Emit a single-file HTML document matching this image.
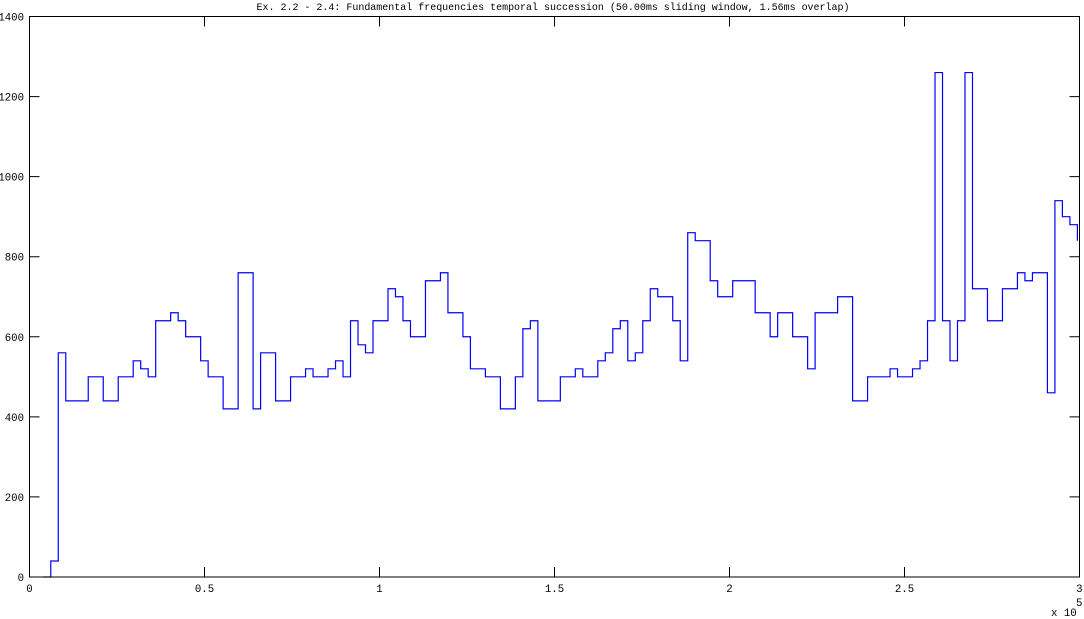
<!DOCTYPE html>
<html><head><meta charset="utf-8"><style>
html,body{margin:0;padding:0;background:#fff;}
svg{display:block;font-family:"Liberation Mono",monospace;font-size:10.7px;}
</style></head><body>
<svg id="chart" width="1084" height="619" viewBox="0 0 1084 619" xmlns="http://www.w3.org/2000/svg">
<rect width="1084" height="619" fill="#fff"/>
<text x="553" y="10" text-anchor="middle" textLength="593" lengthAdjust="spacingAndGlyphs" style="font-size:10.2px">Ex. 2.2 - 2.4: Fundamental frequencies temporal succession (50.00ms sliding window, 1.56ms overlap)</text>
<g id="axes"></g>
<path id="series" fill="none" stroke="#0000ff" stroke-width="1.2"/>
<rect x="29.5" y="16.5" width="1050" height="560.5" fill="none" stroke="#000" stroke-width="1"/>
<text x="1051" y="616">x 10</text>
<text x="1076" y="606">5</text>
</svg>
<script>
const xTicks = [0, 50000, 100000, 150000, 200000, 250000, 300000];
const xTickLabels = ["0", "0.5", "1", "1.5", "2", "2.5", "3"];
const yTicks = [0, 200, 400, 600, 800, 1000, 1200, 1400];
const yTickLabels = ["0", "200", "400", "600", "800", "1000", "1200", "1400"];
const stepStart = 3939;
const stepSize = 2141;
const f0Values = [0,
 40,560,440,440,440,500,500,440,440,500,500,540,520,500,640,640,660,640,600,600,540,500,500,420,420,760,760,420,560,560,440,440,500,500,520,500,500,520,540,500,640,580,560,
 640,640,720,700,640,600,600,740,740,760,660,660,600,520,520,500,500,420,420,500,620,640,440,440,440,500,500,520,500,500,540,560,620,640,540,560,640,720,700,700,640,540,860,840,840,740,
 700,700,740,740,740,660,660,600,660,660,600,600,520,660,660,660,700,700,440,440,500,500,500,520,500,500,520,540,640,1260,640,540,640,1260,720,720,640,640,720,720,760,740,760,760,460,940,900,880,840];

const L=29.5,R=1079.5,T=16.5,B=577;
const xS = v => L + (v - 0) / 300000 * (R - L);
const yS = v => B - v / 1400 * (B - T);
const NS="http://www.w3.org/2000/svg";
const axes=document.getElementById('axes');
xTicks.forEach((t,i)=>{
  const x=xS(t);
  const p=document.createElementNS(NS,'path');
  p.setAttribute('d',`M${x},${B}V${B-10}M${x},${T}V${T+10}`);
  p.setAttribute('stroke','#000');
  
  
  axes.appendChild(p);
  const tx=document.createElementNS(NS,'text');
  tx.setAttribute('x',x);tx.setAttribute('y',592);
  tx.setAttribute('text-anchor',i===xTicks.length-1?'end':'middle');
  if(i===xTicks.length-1) tx.setAttribute('x',x+3);
  tx.textContent=xTickLabels[i];
  
  
  axes.appendChild(tx);
});
yTicks.forEach((t,i)=>{
  const y=yS(t);
  const p=document.createElementNS(NS,'path');
  p.setAttribute('d',`M${L},${y}H${L+10}M${R},${y}H${R-10}`);
  p.setAttribute('stroke','#000');
  
  
  axes.appendChild(p);
  const tx=document.createElementNS(NS,'text');
  tx.setAttribute('x',24);tx.setAttribute('y',y+4);
  tx.setAttribute('text-anchor','end');
  tx.textContent=yTickLabels[i];
  
  
  axes.appendChild(tx);
});
let d='';
f0Values.forEach((v,i)=>{
  const x=xS(stepStart+i*stepSize), y=yS(v);
  if(i===0) d+=`M${x},${y}`;
  else d+=`H${x}V${y}`;
});
document.getElementById('series').setAttribute('d',d);
</script>
</body></html>
